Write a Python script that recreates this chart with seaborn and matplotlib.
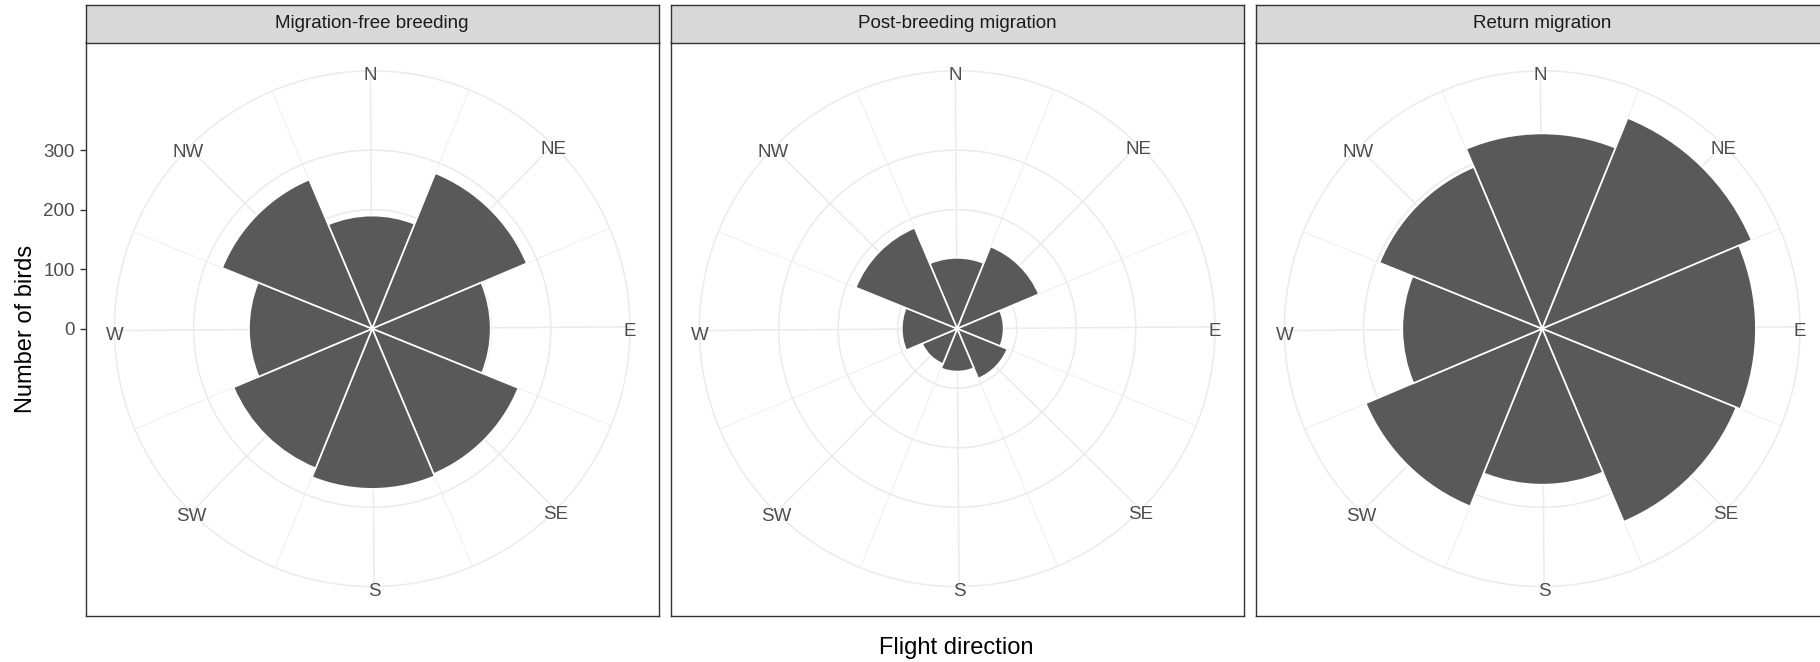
import numpy as np
import pandas as pd
import matplotlib
matplotlib.use("Agg")
import matplotlib.pyplot as plt
import seaborn as sns

# ---- data -------------------------------------------------------------
directions = ["N", "NE", "E", "SE", "S", "SW", "W", "NW"]
bearings = [0, 45, 90, 135, 180, 225, 270, 315]
phases = ["Migration-free breeding", "Post-breeding migration", "Return migration"]
breeding_counts = [190, 282, 199, 265, 269, 253, 207, 272]
post_breeding_counts = [119, 149, 78, 91, 72, 64, 93, 184]
return_counts = [328, 382, 359, 352, 262, 322, 235, 295]
r_breaks = [0, 100, 200, 300]

df = pd.DataFrame({
    "phase": np.repeat(phases, len(directions)),
    "direction": directions * len(phases),
    "bearing": bearings * len(phases),
    "count": breeding_counts + post_breeding_counts + return_counts,
})
df["theta"] = np.deg2rad(df["bearing"])

# ---- style ------------------------------------------------------------
sns.set_theme(style="white")
plt.rcParams["font.family"] = ["Liberation Sans", "DejaVu Sans"]

GRID = "#EBEBEB"
BORDER = "#333333"
BAR = "#595959"
AXTEXT = "#4D4D4D"

W, H = 1820, 662
fig = plt.figure(figsize=(W / 100, H / 100), dpi=100)
fig.patch.set_facecolor("white")


def rect(left, top, w, h):
    return [left / W, 1 - (top + h) / H, w / W, h / H]


panel_w, panel_h = 573.0, 574.0
panel_top = 41.7
pitch = 585.0
first_left = 85.7
r_top = 385.0                      # radial value at 0.4 of the panel width
r_outer = r_top * 0.45 / 0.4       # outer ring at 0.45 of the panel width
px_per_unit = 0.4 * panel_w / r_top
ring_px = 0.45 * panel_w
half_units = (panel_h / 2) / px_per_unit
ring_theta = np.linspace(0, 2 * np.pi, 721)

for i, phase in enumerate(phases):
    left = first_left + pitch * i
    cx = left + panel_w / 2
    cy = panel_top + panel_h / 2

    # rectangular panel with border (and the radial scale on the first one)
    frame = fig.add_axes(rect(left, panel_top, panel_w, panel_h))
    frame.set_facecolor("white")
    frame.set_xlim(-1, 1)
    frame.set_ylim(-half_units, half_units)
    frame.set_xticks([])
    for s in frame.spines.values():
        s.set_visible(True)
        s.set_color(BORDER)
        s.set_linewidth(1.0)
    if i == 0:
        frame.set_yticks(r_breaks)
        frame.set_yticklabels([str(b) for b in r_breaks])
        frame.tick_params(axis="y", left=True, length=4.1, width=1.0,
                          color=BORDER, labelcolor=AXTEXT, labelsize=13.5, pad=3.8)
    else:
        frame.set_yticks([])

    # facet strip
    strip = fig.add_axes(rect(left, 5.3, panel_w, 37.2))
    strip.set_facecolor("#D9D9D9")
    strip.set_xticks([])
    strip.set_yticks([])
    for s in strip.spines.values():
        s.set_visible(True)
        s.set_color(BORDER)
        s.set_linewidth(1.0)
    strip.text(0.5, 0.5, phase, transform=strip.transAxes, ha="center", va="center",
               fontsize=13.5, color="#1A1A1A")

    # polar rose
    pax = fig.add_axes(rect(cx - ring_px, cy - ring_px, 2 * ring_px, 2 * ring_px),
                       projection="polar")
    pax.set_facecolor("none")
    pax.set_theta_zero_location("N", offset=0.42)
    pax.set_theta_direction(-1)
    pax.set_axisbelow(True)

    sub = df[df["phase"] == phase]
    sns.barplot(data=sub, x="theta", y="count", native_scale=True, orient="x",
                width=1, color=BAR, saturation=1, errorbar=None,
                edgecolor="white", linewidth=1.2, ax=pax, zorder=3)

    pax.set_xlim(0, 2 * np.pi)
    pax.set_ylim(0, r_outer)
    pax.set_xticks(np.deg2rad(bearings))
    pax.set_xticks(np.deg2rad(np.array(bearings) + 22.5), minor=True)
    pax.set_xticklabels([])
    pax.set_yticks(r_breaks[1:])
    pax.set_yticklabels([])
    pax.tick_params(which="both", length=0)
    pax.xaxis.grid(True, which="major", color=GRID, linewidth=1.1)
    pax.xaxis.grid(True, which="minor", color=GRID, linewidth=0.55)
    pax.yaxis.grid(True, which="major", color=GRID, linewidth=1.1)
    pax.spines["polar"].set_visible(False)
    # outer ring of the grid
    pax.plot(ring_theta, np.full_like(ring_theta, r_outer), color=GRID,
             linewidth=1.1, clip_on=False, zorder=1)
    pax.set_xlabel("")
    pax.set_ylabel("")

    for d, b in zip(directions, bearings):
        pax.annotate(d, xy=(np.deg2rad(b), r_outer), xytext=(0, -1.8),
                     textcoords="offset points", ha="center", va="center_baseline",
                     fontsize=13.5, color=AXTEXT, annotation_clip=False, zorder=4)

fig.text(956.7 / W, 1 - 654 / H, "Flight direction", ha="center", va="baseline",
         fontsize=17, color="black")
fig.text(32.0 / W, 1 - 328.7 / H, "Number of birds", rotation=90, rotation_mode="anchor",
         ha="center", va="baseline", fontsize=17, color="black")

fig.savefig("out.png", dpi=100, facecolor="white")
